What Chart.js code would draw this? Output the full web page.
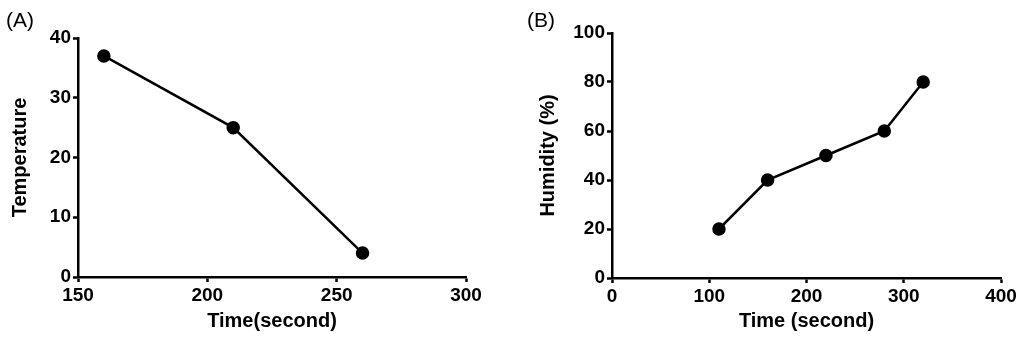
<!DOCTYPE html>
<html>
<head>
<meta charset="utf-8">
<script src="https://cdn.jsdelivr.net/npm/chart.js@4"></script>
<style>
  body { margin: 0; background: #fff; }
  #wrap { position: relative; width: 1024px; height: 345px; }
  canvas { position: absolute; top: 0; }
  .tag { position: absolute; top: 9px; font: 21px "Liberation Sans", Arial, sans-serif; line-height: 21px; color: #000; }
</style>
</head>
<body>
<div id="wrap">
  <canvas id="chartA" width="512" height="345" style="left:0"></canvas>
  <canvas id="chartB" width="512" height="345" style="left:512px"></canvas>
  <div class="tag" style="left:6px">(A)</div>
  <div class="tag" style="left:527px">(B)</div>
</div>
<script>
// Panel A: temperature vs time
const timeA = [160, 210, 260];
const tempA = [37, 25, 4];

// Panel B: humidity vs time
const timeB = [110, 160, 220, 280, 320];
const humidityB = [20, 40, 50, 60, 80];

const FONT = '"Liberation Sans", Arial, sans-serif';

function axis(min, max, step, title, titlePad, fit) {
    return {
        type: 'linear',
        min: min,
        max: max,
        ticks: { stepSize: step, color: '#000', padding: 2, font: { family: FONT, size: 19, weight: 'bold' } },
        grid: { display: true, drawOnChartArea: false, drawTicks: true, tickLength: 5, tickColor: '#000', tickWidth: 2.5 },
        border: { display: true, color: '#000', width: 2.5 },
        title: { display: true, text: title, color: '#000', padding: titlePad, font: { family: FONT, size: 20, weight: 'bold' } },
        afterFit: fit
    };
}

function makeChart(id, xs, ys, xAxis, yAxis, pad) {
    const pts = xs.map((x, i) => ({ x: x, y: ys[i] }));
    new Chart(document.getElementById(id).getContext('2d'), {
        type: 'scatter',
        data: {
            datasets: [{
                data: pts,
                showLine: true,
                borderColor: '#000',
                backgroundColor: '#000',
                borderWidth: 2.5,
                pointRadius: 5.5,
                pointHoverRadius: 5.5,
                tension: 0,
                clip: false
            }]
        },
        options: {
            responsive: false,
            animation: false,
            layout: { padding: pad },
            plugins: { legend: { display: false }, tooltip: { enabled: false } },
            scales: { x: xAxis, y: yAxis }
        }
    });
}

makeChart('chartA', timeA, tempA,
    axis(150, 300, 50, 'Time(second)', { top: 0, bottom: 12 }, s => { s.height = 68; }),
    axis(0, 40, 10, 'Temperature', { top: 8, bottom: 0 }, s => { s.width = 78; }),
    { top: 38, right: 46, left: 0, bottom: 0 });

makeChart('chartB', timeB, humidityB,
    axis(0, 400, 100, 'Time (second)', { top: 0, bottom: 12 }, s => { s.height = 67; }),
    axis(0, 100, 20, 'Humidity (%)', { top: 24, bottom: 0 }, s => { s.width = 100; }),
    { top: 33, right: 23, left: 0, bottom: 0 });
</script>
</body>
</html>
